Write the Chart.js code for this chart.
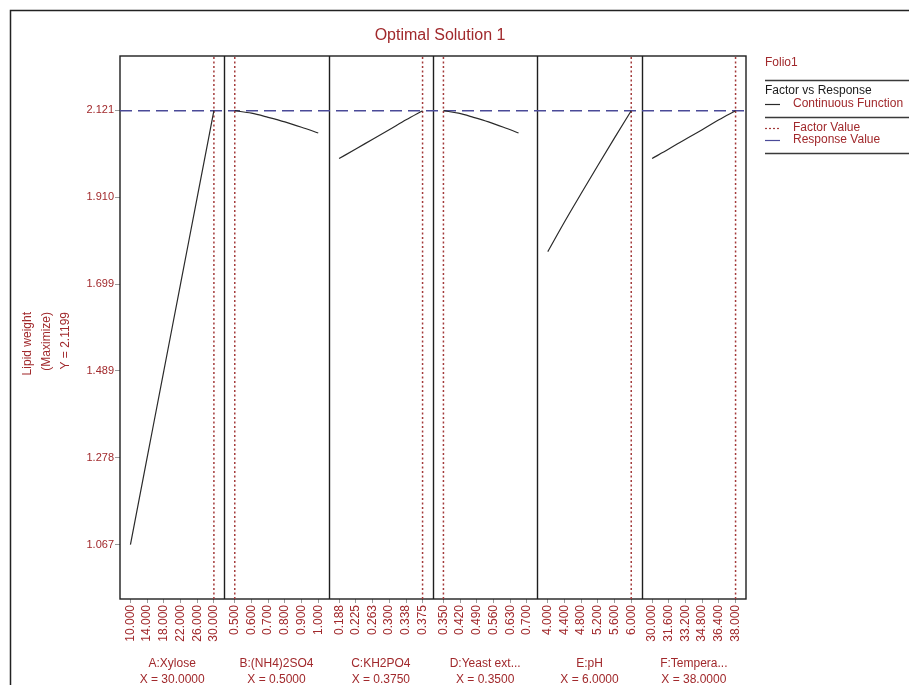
<!DOCTYPE html>
<html>
<head>
<meta charset="utf-8">
<title>Optimal Solution 1</title>
<script src="https://cdn.jsdelivr.net/npm/chart.js@4.4.1/dist/chart.umd.min.js"></script>
<style>
  html, body { margin: 0; padding: 0; background: #ffffff; }
  #wrap { position: relative; width: 909px; height: 685px; }
</style>
</head>
<body>
<div id="wrap"><canvas id="chart" width="909" height="685"></canvas></div>
<script>
// ---- Factors (one panel each) ----
const factorNames = ['A:Xylose', 'B:(NH4)2SO4', 'C:KH2PO4', 'D:Yeast ext...', 'E:pH', 'F:Tempera...'];
const factorLow = [10, 0.5, 0.1875, 0.35, 4, 30];
const factorHigh = [30, 1.0, 0.375, 0.70, 6, 38];
const factorSettings = [30, 0.5, 0.375, 0.35, 6, 38];

// ---- Tick labels of each factor axis ----
const ticksA = ['10.000', '14.000', '18.000', '22.000', '26.000', '30.000'];
const ticksB = ['0.500', '0.600', '0.700', '0.800', '0.900', '1.000'];
const ticksC = ['0.188', '0.225', '0.263', '0.300', '0.338', '0.375'];
const ticksD = ['0.350', '0.420', '0.490', '0.560', '0.630', '0.700'];
const ticksE = ['4.000', '4.400', '4.800', '5.200', '5.600', '6.000'];
const ticksF = ['30.000', '31.600', '33.200', '34.800', '36.400', '38.000'];

// ---- Response curves (factor level -> lipid weight) ----
const curveAx = [10, 14, 18, 22, 26, 30];
const curveAy = [1.067, 1.278, 1.489, 1.699, 1.910, 2.120];
const curveBx = [0.5, 0.6, 0.7, 0.8, 0.9, 1.0];
const curveBy = [2.120, 2.114, 2.104, 2.093, 2.080, 2.066];
const curveCx = [0.1875, 0.225, 0.263, 0.300, 0.338, 0.375];
const curveCy = [2.004, 2.027, 2.051, 2.074, 2.098, 2.120];
const curveDx = [0.35, 0.413, 0.476, 0.539, 0.602, 0.665];
const curveDy = [2.120, 2.114, 2.104, 2.093, 2.080, 2.066];
const curveEx = [4.0, 4.4, 4.8, 5.2, 5.6, 6.0];
const curveEy = [1.778, 1.850, 1.919, 1.987, 2.054, 2.120];
const curveFx = [30, 31.6, 33.2, 34.8, 36.4, 38];
const curveFy = [2.004, 2.027, 2.051, 2.074, 2.098, 2.120];

// ---- Response axis ----
const responseTicks = [1.067, 1.278, 1.489, 1.699, 1.910, 2.121];
const responseValue = 2.1199;
const responseTitle = ['Lipid weight', '(Maximize)', 'Y = 2.1199'];
const chartTitle = 'Optimal Solution 1';

// ---- Building blocks ----
const panelTicks = [ticksA, ticksB, ticksC, ticksD, ticksE, ticksF];
const curvesX = [curveAx, curveBx, curveCx, curveDx, curveEx, curveFx];
const curvesY = [curveAy, curveBy, curveCy, curveDy, curveEy, curveFy];
const nPanels = factorNames.length;

// Each panel occupies one unit of the shared x scale, with a 10% margin on each side.
function toPanel(i, v) {
  return i + 0.1 + 0.8 * (v - factorLow[i]) / (factorHigh[i] - factorLow[i]);
}

const yPad = (responseTicks[responseTicks.length - 1] - responseTicks[0]) * 0.125;
const yMin = responseTicks[0] - yPad;
const yMax = responseTicks[responseTicks.length - 1] + yPad;

const xTickPos = [];
const xTickText = [];
panelTicks.forEach((labels, i) => {
  labels.forEach(t => { xTickPos.push(toPanel(i, parseFloat(t))); xTickText.push(t); });
});

const RED = '#a1292c';
const FONT = "'Liberation Sans', Arial, sans-serif";

const datasets = [];
curvesX.forEach((xs, i) => {
  datasets.push({
    label: factorNames[i],
    data: xs.map((x, k) => ({ x: toPanel(i, x), y: curvesY[i][k] })),
    borderColor: '#2a2a2a', borderWidth: 1.2, pointRadius: 0,
    cubicInterpolationMode: 'monotone', fill: false
  });
});
factorSettings.forEach((s, i) => {
  datasets.push({
    label: 'Factor Value ' + factorNames[i],
    data: [{ x: toPanel(i, s), y: yMin }, { x: toPanel(i, s), y: yMax }],
    borderColor: '#a33a3a', borderWidth: 1.5, borderDash: [2, 2.5], pointRadius: 0, fill: false
  });
});
datasets.push({
  label: 'Response Value',
  data: [{ x: 0, y: responseValue }, { x: nPanels, y: responseValue }],
  borderColor: '#4a4a98', borderWidth: 1.5, borderDash: [12, 6], pointRadius: 0, fill: false
});

// Panel frames, title, response-axis title, legend and page border.
const decorations = {
  id: 'decorations',
  beforeDatasetsDraw(chart) {
    const { ctx, chartArea: a, scales: { x } } = chart;
    ctx.save();
    ctx.strokeStyle = '#1e1e1e';
    ctx.lineWidth = 1.4;
    ctx.strokeRect(a.left, a.top, a.right - a.left, a.bottom - a.top);
    for (let i = 1; i < nPanels; i++) {
      const px = Math.round(x.getPixelForValue(i)) + 0.5;
      ctx.beginPath(); ctx.moveTo(px, a.top); ctx.lineTo(px, a.bottom); ctx.stroke();
    }
    ctx.restore();
  },
  afterDraw(chart) {
    const { ctx } = chart;
    ctx.save();
    // page border
    ctx.strokeStyle = '#222'; ctx.lineWidth = 1.5;
    ctx.beginPath(); ctx.moveTo(10.5, 685); ctx.lineTo(10.5, 10.5); ctx.lineTo(909, 10.5); ctx.stroke();

    // title
    ctx.fillStyle = RED; ctx.font = '16px ' + FONT;
    ctx.textAlign = 'center'; ctx.textBaseline = 'middle';
    ctx.fillText(chartTitle, 440, 35.5);

    // response-axis title (rotated, lines end at the same height)
    ctx.font = '12px ' + FONT;
    responseTitle.forEach((line, k) => {
      ctx.save();
      ctx.translate(28 + k * 19, 312);
      ctx.rotate(-Math.PI / 2);
      ctx.textAlign = 'right'; ctx.textBaseline = 'middle';
      ctx.fillText(line, 0, 0);
      ctx.restore();
    });

    // legend
    const lx = 765;
    ctx.textAlign = 'left'; ctx.textBaseline = 'middle';
    ctx.fillStyle = RED; ctx.font = '12px ' + FONT;
    ctx.fillText('Folio1', lx, 63);
    ctx.strokeStyle = '#3a3a3a'; ctx.lineWidth = 1.6;
    [80, 117, 153].forEach(yy => {
      ctx.beginPath(); ctx.moveTo(lx, yy + 0.5); ctx.lineTo(909, yy + 0.5); ctx.stroke();
    });
    ctx.fillStyle = '#1a1a1a';
    ctx.fillText('Factor vs Response', lx, 91);
    ctx.lineWidth = 1.2;
    ctx.strokeStyle = '#2a2a2a';
    ctx.beginPath(); ctx.moveTo(lx, 104.5); ctx.lineTo(lx + 15, 104.5); ctx.stroke();
    ctx.strokeStyle = '#a33a3a'; ctx.setLineDash([2, 2]);
    ctx.beginPath(); ctx.moveTo(lx, 128.5); ctx.lineTo(lx + 15, 128.5); ctx.stroke();
    ctx.setLineDash([]);
    ctx.strokeStyle = '#4a4a98';
    ctx.beginPath(); ctx.moveTo(lx, 140.5); ctx.lineTo(lx + 15, 140.5); ctx.stroke();
    ctx.fillStyle = RED;
    ctx.fillText('Continuous Function', lx + 28, 104);
    ctx.fillText('Factor Value', lx + 28, 128);
    ctx.fillText('Response Value', lx + 28, 140);
    ctx.restore();
  }
};

new Chart(document.getElementById('chart'), {
  type: 'line',
  data: { datasets },
  plugins: [decorations],
  options: {
    responsive: false,
    devicePixelRatio: 1,
    animation: false,
    layout: { padding: { left: 10, top: 56, right: 163, bottom: 0 } },
    plugins: { legend: { display: false }, tooltip: { enabled: false }, title: { display: false } },
    scales: {
      x: {
        type: 'linear', position: 'bottom', weight: 0,
        min: 0, max: nPanels,
        afterBuildTicks: s => { s.ticks = xTickPos.map(v => ({ value: v })); },
        afterFit: s => { s.height = 50; },
        border: { display: false },
        grid: { drawOnChartArea: false, tickLength: 4, color: '#9a9a9a' },
        ticks: {
          autoSkip: false, minRotation: 90, maxRotation: 90, padding: 2,
          color: RED, font: { family: FONT, size: 12 },
          callback: (v, idx) => xTickText[idx]
        }
      },
      x2: {
        type: 'linear', position: 'bottom', weight: 1, axis: 'x',
        min: 0, max: nPanels,
        afterBuildTicks: s => { s.ticks = factorNames.map((n, i) => ({ value: i + 0.5 })); },
        afterFit: s => { s.height = 36; },
        border: { display: false },
        grid: { display: false, drawTicks: false, tickLength: 0 },
        ticks: {
          autoSkip: false, maxRotation: 0, minRotation: 0, padding: 7,
          color: RED, font: { family: FONT, size: 12, lineHeight: 1.3 },
          callback: (v, idx) => [factorNames[idx], 'X = ' + factorSettings[idx].toFixed(4)]
        }
      },
      y: {
        type: 'linear', position: 'left',
        min: yMin, max: yMax,
        afterBuildTicks: s => { s.ticks = responseTicks.map(v => ({ value: v })); },
        afterFit: s => { s.width = 110; },
        border: { display: false },
        grid: { drawOnChartArea: false, tickLength: 5, color: '#9a9a9a' },
        ticks: {
          padding: 1, color: RED, font: { family: FONT, size: 11 },
          callback: v => Number(v).toFixed(3)
        }
      }
    }
  }
});
</script>
</body>
</html>
